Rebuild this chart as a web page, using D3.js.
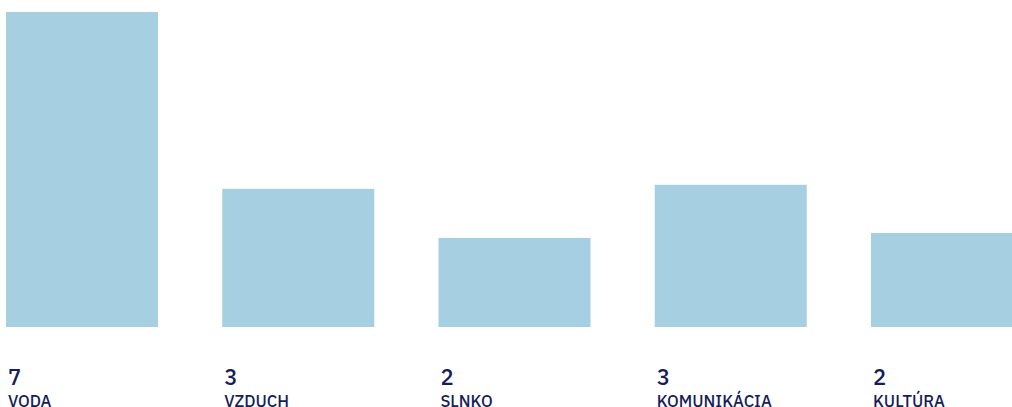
<!DOCTYPE html>
<meta charset="utf-8">
<script src="https://d3js.org/d3.v7.min.js"></script>
<style>
  body { margin: 0; background: #fff; }
</style>
<div id="my_dataviz"></div>
<script>

// data
var categories = ["VODA", "VZDUCH", "SLNKO", "KOMUNIKÁCIA", "KULTÚRA"];
var values = [7, 3.07, 1.98, 3.16, 2.09];

var width = 1012, height = 407;

var svg = d3.select("#my_dataviz")
  .append("svg")
    .attr("width", width)
    .attr("height", height);

// x positions of the columns (last one runs past the right edge)
var x = d3.scaleBand()
  .domain(categories)
  .range([6, 1023])
  .paddingInner(0.297)
  .paddingOuter(0);

// bar heights
var y = d3.scaleLinear()
  .domain([0, 7])
  .range([327, 12]);

var fmt = d3.format(".0f");

var cols = svg.selectAll(".col")
  .data(categories)
  .enter()
  .append("g")
    .attr("class", "col");

cols.append("rect")
    .attr("x", function(d) { return x(d); })
    .attr("y", function(d, i) { return y(values[i]); })
    .attr("width", x.bandwidth())
    .attr("height", function(d, i) { return y(0) - y(values[i]); })
    .style("fill", "#a6cfe2");

// value numbers
cols.append("text")
    .attr("x", function(d) { return x(d) + 2; })
    .attr("y", 385)
    .style("font-family", "'IBM Plex Sans', 'Noto Sans', sans-serif")
    .style("font-size", "22px")
    .style("font-weight", 500)
    .style("fill", "#161d57")
    .text(function(d, i) { return fmt(values[i]); });

// category names
cols.append("text")
    .attr("x", function(d) { return x(d) + 2; })
    .attr("y", 407)
    .style("font-family", "'IBM Plex Sans', 'Noto Sans', sans-serif")
    .style("font-size", "16.5px")
    .style("font-weight", 500)
    .style("fill", "#161d57")
    .text(function(d) { return d; });

</script>
